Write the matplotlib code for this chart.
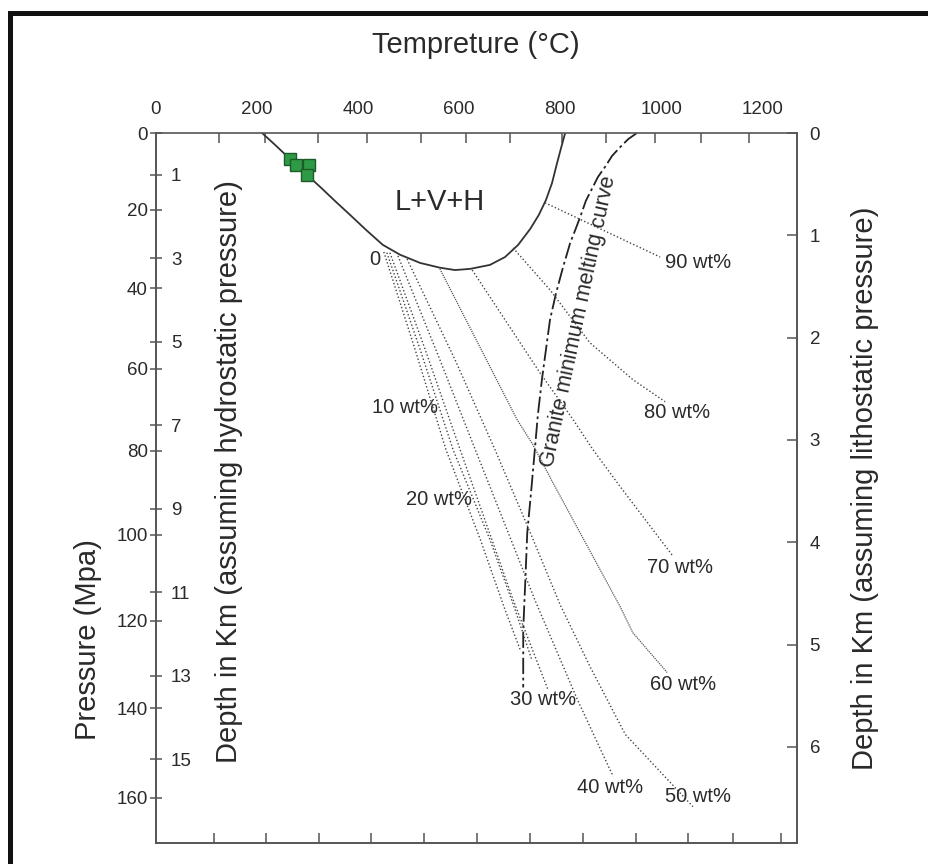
import numpy as np
import matplotlib
matplotlib.use('Agg')
import matplotlib.pyplot as plt
from matplotlib.patches import Rectangle

plt.rcParams['font.family'] = ['Liberation Sans', 'DejaVu Sans']

# --- data: temperature (C) and pressure (MPa) ---
lvh_T = [210, 238, 265, 295, 325, 354, 384, 416, 449, 483, 523, 562, 592, 622,
         661, 691, 717, 741, 758, 772, 784, 794, 802, 810]
lvh_P = [0, 3.4, 6.8, 10.5, 14.1, 17.7, 21.3, 25.2, 29.0, 31.5, 33.6, 34.8, 35.4, 35.1,
         34.1, 32.1, 29.0, 24.9, 21.3, 17.5, 13.1, 7.9, 3.9, 0]

melt_T = [952, 935, 919, 903, 889, 875, 865, 851, 840, 830, 820, 806, 792, 780,
          772, 764, 756, 750, 743, 735, 731, 727, 727]
melt_P = [0, 1.6, 3.7, 6.0, 8.9, 11.5, 14.1, 17.7, 21.8, 25.2, 28.5, 34.6, 41.2, 47.9,
          55.3, 62.7, 71.3, 79.7, 89.3, 99.5, 111.2, 122.1, 135.3]

# salinity isopleths (wt% NaCl)
iso10_T = [451, 513, 574, 642, 691, 721]
iso10_P = [30.8, 55.3, 79.7, 101.1, 117.5, 126.7]
iso20_T = [457, 523, 588, 661, 711, 744]
iso20_P = [31.0, 55.3, 79.7, 101.1, 117.5, 129.0]
iso30_T = [463, 533, 602, 707, 776]
iso30_P = [31.0, 55.3, 79.7, 115.2, 135.8]
iso40_T = [479, 562, 632, 750, 834, 905]
iso40_P = [31.8, 57.8, 79.7, 115.2, 138.0, 155.3]
iso50_T = [497, 592, 671, 741, 800, 859, 929, 1063]
iso50_P = [32.6, 57.8, 79.7, 99.5, 116.3, 130.5, 145.9, 162.0]
iso60_T = [562, 715, 746, 786, 919, 944, 1012]
iso60_P = [35.1, 72.5, 78.5, 87.7, 116.8, 122.8, 131.9]
iso70_T = [626, 760, 826, 865, 919, 1024]
iso70_P = [35.4, 61.0, 72.5, 79.7, 88.6, 105.1]
iso80_T = [707, 780, 859, 944, 1008]
iso80_P = [29.8, 40.4, 53.6, 62.7, 68.1]
iso90_T = [770, 998]
iso90_P = [18.2, 32.1]

# fluid inclusion samples (green squares)
sample_T = [265, 277, 303, 299]
sample_P = [6.8, 8.4, 8.4, 11.0]

# labels
iso_labels = ['0', '10 wt%', '20 wt%', '30 wt%', '40 wt%', '50 wt%', '60 wt%', '70 wt%', '80 wt%', '90 wt%']
iso_label_T = [434, 493, 560, 766, 899, 1073, 1043, 1038, 1032, 1073]
iso_label_P = [32.8, 69.6, 91.7, 138.0, 157.8, 159.8, 134.7, 107.7, 70.8, 33.6]

# axes
t_labels = [0, 200, 400, 600, 800, 1000, 1200]
top_marks = [125, 216, 321, 418, 525, 614, 701, 804, 891, 988, 1079, 1174]
bottom_marks = [115, 218, 323, 426, 531, 636, 741, 846, 950, 1053, 1143, 1238]
p_ticks = [0, 20, 40, 60, 80, 100, 120, 140, 160]
hydro_km = [1, 3, 5, 7, 9, 11, 13, 15]
litho_km = [0, 1, 2, 3, 4, 5, 6]

# the scanned pressure axis is stretched a little toward the bottom
A_LIN = 3.794
B_QUAD = 0.002266


def fwd(p):
    p = np.asarray(p, dtype=float)
    return A_LIN * p + B_QUAD * p * p


def inv(y):
    y = np.asarray(y, dtype=float)
    disc = np.clip(A_LIN ** 2 + 4 * B_QUAD * y, 0, None)
    return (-A_LIN + np.sqrt(disc)) / (2 * B_QUAD)


txt = '#2a2a2a'
axc = '#555555'

fig = plt.figure(figsize=(9.29, 8.64), dpi=100)
ax = fig.add_axes([156 / 929, 21 / 864, 641 / 929, 710 / 864])

ax.set_yscale('function', functions=(fwd, inv))
ax.set_xlim(0, 1269)
ax.set_ylim(170, 0)

for s in ax.spines.values():
    s.set_color(axc)
    s.set_linewidth(1.2)

# top: labels, separate tick marks
ax.set_xticks(t_labels)
ax.set_xticks(top_marks, minor=True)
ax.tick_params(axis='x', which='major', bottom=False, labelbottom=False,
               top=True, labeltop=True, length=0, pad=11, labelsize=13.5, labelcolor=txt)
ax.tick_params(axis='x', which='minor', bottom=False, top=True, direction='in',
               length=7.5, width=1.1, color=axc)

# left: pressure
ax.set_yticks(p_ticks)
ax.tick_params(axis='y', which='major', direction='inout', length=8.6, width=1.1,
               color=axc, pad=1.5, labelsize=13.5, labelcolor=txt)
ax.tick_params(axis='y', which='minor', left=False, right=False)

# bottom tick marks only
sec_b = ax.secondary_xaxis('bottom')
sec_b.set_xticks(bottom_marks)
sec_b.tick_params(direction='in', length=7.5, width=1.1, color=axc, labelbottom=False)
sec_b.spines['bottom'].set_color(axc)
sec_b.spines['bottom'].set_linewidth(1.2)

# left inside: hydrostatic depth
sec_h = ax.secondary_yaxis('left', functions=(lambda p: p / 10.0, lambda d: d * 10.0))
sec_h.set_yticks(hydro_km, labels=[str(k) for k in hydro_km], ha='left')
sec_h.tick_params(direction='inout', length=8.6, width=1.1, color=axc, pad=-15.1,
                  labelsize=13.5, labelcolor=txt)
sec_h.spines['left'].set_color(axc)
sec_h.spines['left'].set_linewidth(1.2)

# right: lithostatic depth
sec_r = ax.secondary_yaxis('right', functions=(lambda p: p / 24.5, lambda d: d * 24.5))
sec_r.set_yticks(litho_km)
sec_r.tick_params(direction='in', length=7.5, width=1.1, color=axc, pad=9,
                  labelsize=13.5, labelcolor=txt)
sec_r.spines['right'].set_color(axc)
sec_r.spines['right'].set_linewidth(1.2)
sec_r.set_ylabel('Depth in Km (assuming lithostatic pressure)', fontsize=21, color=txt, labelpad=22)

# curves
ax.plot(lvh_T, lvh_P, color='#333333', lw=1.3)
ax.plot(melt_T, melt_P, color='#222222', lw=1.3, linestyle=(0, (9, 2, 1.5, 2)))

dot = dict(color='#444444', lw=1.0, linestyle=(0, (1, 1.6)))
for tt, pp in [(iso10_T, iso10_P), (iso20_T, iso20_P), (iso30_T, iso30_P),
               (iso40_T, iso40_P), (iso50_T, iso50_P), (iso70_T, iso70_P),
               (iso80_T, iso80_P), (iso90_T, iso90_P)]:
    ax.plot(tt, pp, **dot)
ax.plot(iso60_T, iso60_P, color='#555555', lw=0.9, linestyle=(0, (1, 0.8)))

ax.plot(sample_T, sample_P, 's', ms=8, mfc='#2f9a46', mec='#1d5a2a', mew=1.0)

for lab, tt, pp in zip(iso_labels, iso_label_T, iso_label_P):
    ax.text(tt, pp, lab, fontsize=14.5, color=txt, ha='center', va='center')

ax.text(562, 18.0, 'L+V+H', fontsize=21, color=txt, ha='center', va='center')
ax.text(836, 48.4, 'Granite minimum melting curve', fontsize=15.5, color=txt,
        rotation=78, ha='center', va='center', rotation_mode='anchor')

ax.text((229 - 156) / 641, (843 - 472) / 710, 'Depth in Km (assuming hydrostatic pressure)',
        transform=ax.transAxes, rotation=90, fontsize=21, color=txt, ha='center', va='center')

ax.set_ylabel('Pressure (Mpa)', fontsize=21, color=txt)
ax.yaxis.set_label_coords(-0.084, (843 - 640) / 710)

fig.text(476 / 929, 1 - 45 / 864, 'Tempreture (°C)', fontsize=21, color=txt, ha='center', va='center')

# black frame of the scanned page
fig.add_artist(Rectangle((10.5 / 929, -0.2), 1.5, 1 - 12.5 / 864 + 0.2, transform=fig.transFigure,
                         fill=False, ec='#111111', lw=3.6))

fig.savefig('out.png', dpi=100, facecolor='white')
